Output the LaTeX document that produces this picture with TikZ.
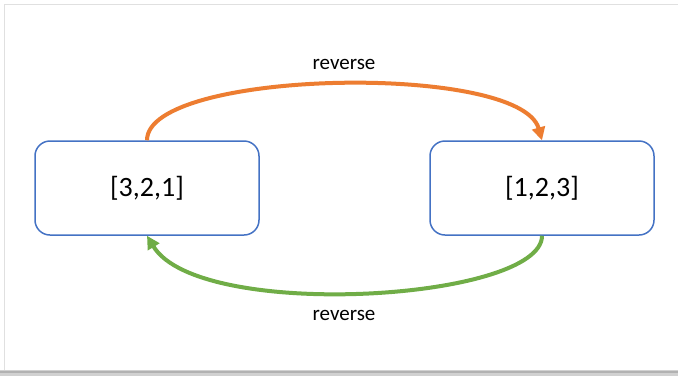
\documentclass[tikz,border=0pt]{standalone}
\usepackage{fontspec}
\setmainfont{Carlito}
\usetikzlibrary{arrows.meta}
\definecolor{boxblue}{HTML}{4472C4}
\definecolor{arrorange}{HTML}{ED7D31}
\definecolor{arrgreen}{HTML}{70AD47}
\begin{document}
\begin{tikzpicture}[x=1pt,y=-1pt,
  listbox/.style={draw=boxblue,line width=1.5pt,fill=white,rounded corners=15pt,
    minimum width=224pt,minimum height=94pt,inner sep=0pt,
    font=\fontsize{28}{30}\selectfont},
  revarrow/.style={line width=4pt,-{Triangle[length=13pt,width=13pt]}},
  revlabel/.style={font=\fontsize{21}{24}\selectfont,inner sep=0pt}]
\useasboundingbox (0,0) rectangle (678,376);
\fill[white] (0,0) rectangle (678,376);
\draw[black!12,line width=1pt] (4,376) -- (4,4) -- (678,4);
\fill[black!18] (0,370) rectangle (678,376);
\fill[black!30] (0,371) rectangle (678,373);
\node[listbox] (L) at (147,188) {[3,2,1]};
\node[listbox] (R) at (542,188) {[1,2,3]};
\node[revlabel] (top) at (344,64) {reverse};
\node[revlabel] (bot) at (344,315) {reverse};
\draw[revarrow,arrorange] (L.north) .. controls +(0,-71) and +(-22,-78) .. (R.north);
\draw[revarrow,arrgreen] (R.south) .. controls +(0,65) and +(52,86) .. (L.south);
\end{tikzpicture}
\end{document}
